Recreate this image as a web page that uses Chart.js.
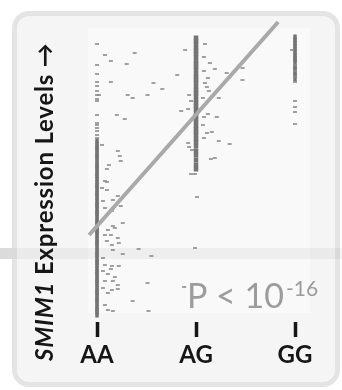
<!DOCTYPE html>
<html>
<head>
<meta charset="utf-8">
<script src="https://cdn.jsdelivr.net/npm/chart.js@4.4.1/dist/chart.umd.min.js"></script>
<style>
  body { margin: 0; background: #fff; }
  #wrap { position: relative; width: 342px; height: 390px; overflow: hidden; }
  .card { position: absolute; left: 12px; top: 11px; width: 328px; height: 376px; box-sizing: border-box;
          border: 5px solid #e4e4e4; border-radius: 17px; background: #f5f5f5; }
  .plotbg { position: absolute; left: 88px; top: 28px; width: 222px; height: 285px; background: #f9f9f9; }
  .band { position: absolute; left: 0; top: 248px; width: 342px; height: 11px; background: rgba(0,0,0,0.045); }
  .band-out { position: absolute; left: 0; top: 248px; width: 12px; height: 11px; background: rgba(0,0,0,0.1); }
  canvas { position: absolute; left: 0; top: 0; }
</style>
</head>
<body>
<div id="wrap">
  <div class="card"></div>
  <div class="plotbg"></div>
  <div class="band"></div>
  <div class="band-out"></div>
  <canvas id="chart" width="342" height="390"></canvas>
</div>
<script>
const genotypes = ["AA", "AG", "GG"];
const titleGene = "SMIM1";
const titleRest = " Expression Levels \u2192";
const pLabel = "P < 10";
const pExponent = "-16";

// dense cores of each genotype column (expression level)
const aaCore = [18.1, 17.8, 17.5, 17.3, 17.0, 16.7, 16.5, 16.2, 15.9, 15.6, 15.4, 15.1, 14.8, 14.6, 14.3, 14.0,
  13.7, 13.5, 13.2, 12.9, 12.7, 12.4, 12.1, 11.8, 11.6, 11.3, 11.0, 10.8, 10.5, 10.2, 9.9, 9.7, 9.4, 9.1, 8.9,
  8.6, 8.3, 8.0, 7.8, 7.5, 7.2, 6.9, 6.7, 6.4, 6.1, 5.9, 5.6, 5.3, 5.0, 4.8, 4.5, 4.2, 4.0, 3.7, 3.4, 3.1, 2.9,
  2.6, 2.3, 2.1, 1.8, 1.5, 1.2, 1.0, 0.7];
const agCore = [28.4, 28.1, 27.8, 27.4, 27.1, 26.8, 26.5, 26.1, 25.8, 25.5, 25.2, 24.8, 24.5, 24.2, 23.9, 23.5,
  23.2, 22.9, 22.6, 22.2, 21.9, 21.6, 21.3, 20.9, 20.6, 20.3, 20.0, 19.6, 19.3, 19.0, 18.7, 18.3, 18.0, 17.6,
  17.1, 16.7, 16.2, 15.7, 15.3];
const ggCore = [28.5, 28.2, 27.9, 27.6, 27.3, 27.0, 26.7, 26.4, 26.2, 25.9, 25.5, 25.3, 24.9, 24.7, 24.3];

// single points sitting on the column
const aaOnAxis = [27.8, 25.7, 24.8, 24.0, 23.6, 23.1, 22.7, 22.3, 22.1, 20.7, 19.9, 19.7, 19.4, 19.1, 18.7, 18.4];
const ggOnAxis = [25.7, 25.1, 24.5, 24.0, 22.1, 21.5, 21.0, 19.8];

// jittered points: horizontal offset from column, expression level
const aaOffset = [.08, .38, .14, .30, .14, .57, .66, .31, .36, .51, .02, .20, .28, .05, .21, .23, .24, .12, .10,
  .08, .10, .05, .10, .21, .16, .24, .06, .08, .15, .26, .16, .11, .18, .08, .14, .21, .22, .10, .15, .16, .42,
  .26, .55, .06, .08, .15, .14, .22, .06, .11, .18, .08, .16, .51, .21, .06, .15, .21, .11, .36, .08, .16, .11, .52];
const aaLevel = [26.7, 26.9, 26.1, 25.8, 24.0, 23.9, 23.3, 22.7, 22.4, 22.7, 22.7, 20.7, 20.3, 17.7, 17.1, 16.6,
  16.1, 15.7, 15.3, 14.1, 14.0, 13.4, 13.2, 12.6, 12.2, 11.6, 12.1, 11.4, 11.1, 9.9, 9.6, 9.2, 9.4, 8.7, 8.7,
  8.4, 7.9, 8.1, 7.7, 7.2, 7.3, 6.8, 6.6, 6.4, 5.7, 5.6, 5.3, 5.6, 5.1, 4.8, 4.5, 4.1, 4.1, 3.9, 3.7, 3.4, 3.2,
  3.3, 2.9, 2.1, 1.7, 1.1, 1.2, 1.1];
const agOffset = [-.11, .09, -.19, .08, .14, .19, .31, .47, .47, .08, .12, .09, .11, .13, -.07, .07, .23, -.05,
  -.08, -.15, .12, .08, .21, .07, .11, .16, .08, .23, .34, -.08, -.07, -.04, .15, .19, -.05, -.01, .01, -.01, -.12];
const agLevel = [27.2, 27.8, 24.7, 26.5, 25.9, 25.3, 24.9, 25.4, 24.2, 25.1, 24.4, 23.9, 23.5, 23.1, 22.7, 22.4,
  22.4, 22.1, 21.3, 21.1, 20.8, 20.5, 20.5, 19.7, 18.9, 19.0, 18.4, 18.1, 17.8, 17.9, 17.5, 17.2, 16.3, 16.4,
  14.8, 14.8, 12.5, 7.4, 3.5];
const ggOffset = [-.03];
const ggLevel = [27.2];

// regression fit end points
const fitX = [-0.08, 1.83];
const fitY = [8.7, 30.0];

const onColumn = (vals, idx) => vals.map(v => ({ x: idx, y: v }));
const jittered = (offs, vals, idx) => offs.map((o, i) => ({ x: idx + o, y: vals[i] }));

const coreStyle = {
  type: "scatter", pointStyle: "line", rotation: 90, pointRadius: 2.5, pointBorderWidth: 3.5,
  borderColor: "#747474", backgroundColor: "#747474", order: 2
};
const dotStyle = {
  type: "scatter", pointStyle: "line", pointRadius: 2, pointBorderWidth: 1.6,
  borderColor: "#8a8a8a", backgroundColor: "#8a8a8a", order: 1
};

const annotations = {
  id: "annotations",
  afterDraw(chart) {
    const ctx = chart.ctx;
    ctx.save();
    ctx.translate(53, 361);
    ctx.rotate(-Math.PI / 2);
    ctx.fillStyle = "#161616";
    ctx.textBaseline = "alphabetic";
    ctx.letterSpacing = "0.8px";
    ctx.font = "italic bold 24px Lato";
    ctx.fillText(titleGene, 0, 0);
    const w = ctx.measureText(titleGene).width;
    ctx.font = "bold 24px Lato";
    ctx.fillText(titleRest, w, 0);
    ctx.restore();

    ctx.save();
    ctx.fillStyle = "#9c9c9c";
    ctx.textBaseline = "alphabetic";
    ctx.font = "34px Lato";
    ctx.fillText(pLabel, 187, 308);
    const pw = ctx.measureText(pLabel).width;
    ctx.font = "21px Lato";
    ctx.fillText(pExponent, 187 + pw + 2, 296);
    ctx.restore();
  }
};

const ctx1 = document.getElementById("chart").getContext("2d");
const chart = new Chart(ctx1, {
  data: {
    datasets: [
      { type: "line", data: fitX.map((x, i) => ({ x: x, y: fitY[i] })), borderColor: "#a9a9a9",
        borderWidth: 4, pointRadius: 0, order: 0 },
      Object.assign({ data: onColumn(aaCore, 0) }, coreStyle),
      Object.assign({}, coreStyle, { data: onColumn(agCore, 1), pointBorderWidth: 4.5 }),
      Object.assign({ data: onColumn(ggCore, 2) }, coreStyle),
      Object.assign({ data: onColumn(aaOnAxis, 0) }, dotStyle),
      Object.assign({ data: onColumn(ggOnAxis, 2) }, dotStyle),
      Object.assign({ data: jittered(aaOffset, aaLevel, 0) }, dotStyle),
      Object.assign({ data: jittered(agOffset, agLevel, 1) }, dotStyle),
      Object.assign({ data: jittered(ggOffset, ggLevel, 2) }, dotStyle)
    ]
  },
  options: {
    responsive: false,
    animation: false,
    devicePixelRatio: 1,
    layout: { padding: { left: 80, right: 17, top: 15, bottom: 0 } },
    plugins: { legend: { display: false }, tooltip: { enabled: false } },
    scales: {
      x: {
        type: "linear",
        min: -0.172,
        max: 2.303,
        afterBuildTicks: function(scale) { scale.ticks = [{ value: 0 }, { value: 1 }, { value: 2 }]; },
        afterFit: function(scale) { scale.height = 68; },
        grid: { drawOnChartArea: false, drawTicks: true, tickLength: 15, tickWidth: 3.5, tickColor: "#161616" },
        border: { display: false },
        ticks: {
          autoSkip: false,
          maxRotation: 0,
          padding: 4,
          color: "#161616",
          font: { family: "Lato", weight: "bold", size: 24 },
          callback: function(v) { return genotypes[v]; }
        }
      },
      y: {
        display: false,
        min: 0,
        max: 30.7
      }
    }
  },
  plugins: [annotations]
});
</script>
</body>
</html>
